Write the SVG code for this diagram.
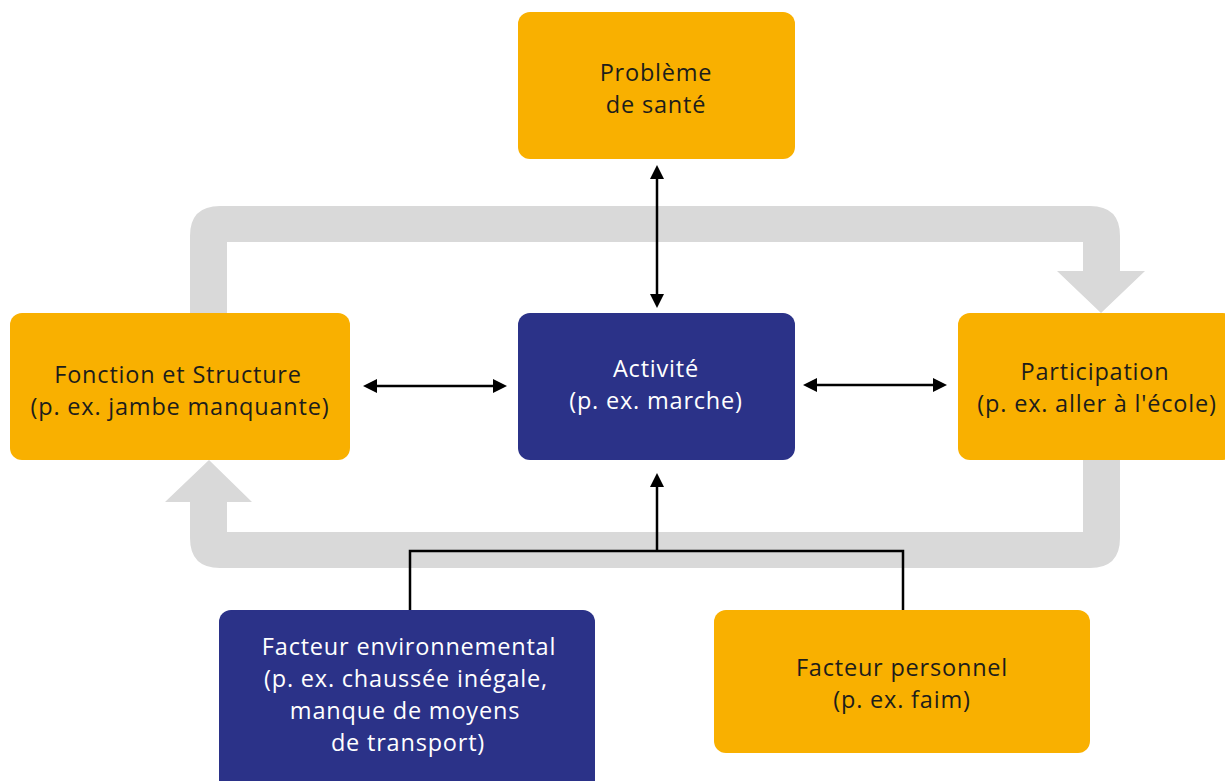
<svg xmlns="http://www.w3.org/2000/svg" width="1225" height="781" viewBox="0 0 1225 781">
<style>
.loop{fill:#d9d9d9}
.o{fill:#f9b000}
.n{fill:#2b3288}
.t{font-family:"Open Sans","Liberation Sans",sans-serif;font-size:23.5px;letter-spacing:0.8px;text-anchor:middle;fill:#1d1d1b}
.w{fill:#ffffff}
.c{fill:none;stroke:#000;stroke-width:2.5}
</style>
<defs>
<marker id="ah" markerUnits="userSpaceOnUse" markerWidth="14" markerHeight="14" viewBox="0 0 14 14" refX="10" refY="7" orient="auto-start-reverse">
<path d="M0,0 L14,7 L0,14 Z" fill="#000"/>
</marker>
</defs>
<rect width="1225" height="781" fill="#fff"/>
<g id="loop">
<path class="loop" d="M190,320 L190,236 Q190,206 220,206 L1090,206 Q1120,206 1120,236 L1120,271 L1145,271 L1101,313 L1057,271 L1083,271 L1083,242 L227,242 L227,320 Z"/>
<path class="loop" d="M1120,455 L1120,538 Q1120,568 1090,568 L220,568 Q190,568 190,538 L190,502 L165,502 L209,460 L252,502 L227,502 L227,532 L1083,532 L1083,455 Z"/>
</g>
<g id="connectors">
<line class="c" x1="657" y1="169" x2="657" y2="304" marker-start="url(#ah)" marker-end="url(#ah)"/>
<line class="c" x1="367" y1="386" x2="503" y2="386" marker-start="url(#ah)" marker-end="url(#ah)"/>
<line class="c" x1="807" y1="385" x2="943" y2="385" marker-start="url(#ah)" marker-end="url(#ah)"/>
<path class="c" d="M410,610 V551 H903 V610"/>
<line class="c" x1="657" y1="551" x2="657" y2="477" marker-end="url(#ah)"/>
</g>
<g id="probleme">
<rect class="o" x="518" y="12" width="277" height="147" rx="12"/>
<text class="t" x="656" y="80.5">Problème</text>
<text class="t" x="656" y="112.5">de santé</text>
</g>
<g id="activite">
<rect class="n" x="518" y="313" width="277" height="147" rx="12"/>
<text class="t w" x="656" y="377">Activité</text>
<text class="t w" x="656" y="409">(p. ex. marche)</text>
</g>
<g id="fonction">
<rect class="o" x="10" y="313" width="340" height="147" rx="12"/>
<text class="t" x="178" y="383">Fonction et Structure</text>
<text class="t" x="180" y="415">(p. ex. jambe manquante)</text>
</g>
<g id="participation">
<rect class="o" x="958" y="313" width="277" height="147" rx="12"/>
<text class="t" x="1095" y="379.5">Participation</text>
<text class="t" x="1097" y="411.5">(p. ex. aller à l'école)</text>
</g>
<g id="environnemental">
<rect class="n" x="219" y="610" width="376" height="190" rx="12"/>
<text class="t w" x="409" y="655">Facteur environnemental</text>
<text class="t w" x="406" y="687">(p. ex. chaussée inégale,</text>
<text class="t w" x="405" y="719">manque de moyens</text>
<text class="t w" x="408" y="751">de transport)</text>
</g>
<g id="personnel">
<rect class="o" x="714" y="610" width="376" height="143" rx="12"/>
<text class="t" x="902" y="675.5">Facteur personnel</text>
<text class="t" x="902" y="707.5">(p. ex. faim)</text>
</g>
</svg>
